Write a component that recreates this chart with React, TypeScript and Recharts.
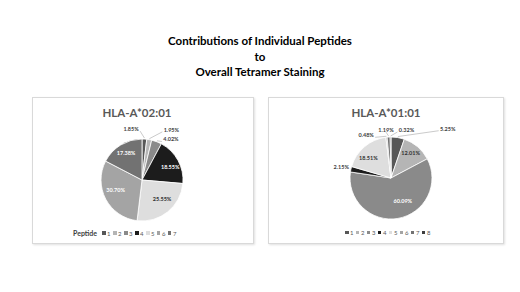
import { PieChart, Pie, Cell, Legend } from 'recharts';

const PEPTIDES_A0201 = ['1', '2', '3', '4', '5', '6', '7'];
const VALUES_A0201 = [1.85, 1.95, 4.02, 18.55, 25.55, 30.7, 17.38];

const PEPTIDES_A0101 = ['1', '2', '3', '4', '5', '6', '7', '8'];
const VALUES_A0101 = [5.25, 12.01, 60.09, 2.15, 18.51, 0.48, 1.19, 0.32];

const TITLE_LINES = ['Contributions of Individual Peptides', 'to', 'Overall Tetramer Staining'];

const GRAYS = ['#575757', '#b5b5b5', '#8a8a8a', '#1c1c1c', '#dedede', '#a4a4a4', '#727272', '#3e3e3e'];

const FONT = 'Lato, "Open Sans", sans-serif';

// label placement: inside the slice, or outside with a leader line and a nudge
type LabelSpec = { out: boolean; dx: number; dy: number; color: string };

const LABELS_A0201: LabelSpec[] = [
    { out: true, dx: -14, dy: 2, color: '#404040' },
    { out: true, dx: 20, dy: 2, color: '#404040' },
    { out: true, dx: 10, dy: 9, color: '#404040' },
    { out: false, dx: 3, dy: 1, color: '#ffffff' },
    { out: false, dx: 2, dy: -3, color: '#303030' },
    { out: false, dx: -1, dy: -3, color: '#ffffff' },
    { out: false, dx: -1, dy: -2, color: '#ffffff' },
];

const LABELS_A0101: LabelSpec[] = [
    { out: true, dx: 48, dy: 3, color: '#404040' },
    { out: false, dx: 1, dy: -3, color: '#303030' },
    { out: false, dx: 7, dy: -5, color: '#ffffff' },
    { out: true, dx: 2, dy: 0, color: '#404040' },
    { out: false, dx: -4, dy: 2, color: '#303030' },
    { out: true, dx: -19, dy: 10, color: '#404040' },
    { out: true, dx: -2, dy: 5, color: '#404040' },
    { out: true, dx: 16, dy: 5, color: '#404040' },
];

const RAD = Math.PI / 180;

function makeLabel(specs: LabelSpec[]) {
    return (props: any) => {
        const { cx, cy, midAngle, outerRadius, index, value } = props;
        const spec = specs[index];
        const cos = Math.cos(-midAngle * RAD);
        const sin = Math.sin(-midAngle * RAD);
        const rr = spec.out ? outerRadius + 12 : outerRadius * 0.7;
        const x = cx + rr * cos + spec.dx;
        const y = cy + rr * sin + spec.dy;
        const text = `${value.toFixed(2)}%`;
        let line = null;
        if (spec.out) {
            const ex = cx + (outerRadius + 1) * cos;
            const ey = cy + (outerRadius + 1) * sin;
            const lx = x < ex - 4 ? x + 9 : x > ex + 4 ? x - 9 : x;
            const ly = y + 2;
            line = <polyline points={`${ex},${ey} ${lx},${ly}`} fill="none" stroke="#a6a6a6" strokeWidth={0.6} />;
        }
        return (
            <g key={`lbl-${index}`}>
                {line}
                <text
                    x={x}
                    y={y}
                    textAnchor="middle"
                    dominantBaseline="central"
                    fill={spec.color}
                    fontSize={5.5}
                    fontWeight={700}
                    fontFamily={FONT}
                >
                    {text}
                </text>
            </g>
        );
    };
}

function LegendRow({ names, prefix }: { names: string[]; prefix?: string }) {
    return (
        <div style={{ display: 'flex', alignItems: 'center', fontFamily: FONT, fontSize: 6, color: '#595959' }}>
            {prefix && (
                <span style={{ fontWeight: 700, fontSize: 7, marginRight: 5, color: '#404040' }}>{prefix}</span>
            )}
            {names.map((n, i) => (
                <span key={n} style={{ display: 'flex', alignItems: 'center', marginRight: 2.5, color: '#595959' }}>
                    <span style={{ width: 3.5, height: 3.5, background: GRAYS[i], marginRight: 1.5 }} />
                    {n}
                </span>
            ))}
        </div>
    );
}

interface PanelProps {
    left: number;
    width: number;
    title: string;
    names: string[];
    values: number[];
    labels: LabelSpec[];
    cx: number;
    cy: number;
    legendLeft: number;
    legendPrefix?: string;
}

function PiePanel({ left, width, title, names, values, labels, cx, cy, legendLeft, legendPrefix }: PanelProps) {
    const data = names.map((n, i) => ({ name: n, value: values[i] }));
    const height = 145;
    return (
        <div
            style={{
                position: 'absolute',
                left,
                top: 97,
                width,
                height,
                border: '1px solid #d9d9d9',
                boxShadow: '1px 1px 2px rgba(0,0,0,0.12)',
                background: '#ffffff',
            }}
        >
            <div
                style={{
                    position: 'absolute',
                    left: cx - 60,
                    width: 120,
                    top: 8,
                    textAlign: 'center',
                    fontFamily: FONT,
                    fontWeight: 700,
                    fontSize: 11.5,
                    color: '#595959',
                }}
            >
                {title}
            </div>
            <PieChart width={width} height={height} style={{ position: 'absolute', left: 0, top: 0 }}>
                <Pie
                    data={data}
                    dataKey="value"
                    nameKey="name"
                    cx={cx}
                    cy={cy}
                    outerRadius={41}
                    startAngle={90}
                    endAngle={-270}
                    stroke="#ffffff"
                    strokeWidth={0.8}
                    labelLine={false}
                    label={makeLabel(labels)}
                    isAnimationActive={false}
                >
                    {data.map((_, i) => (
                        <Cell key={`cell-${i}`} fill={GRAYS[i]} />
                    ))}
                </Pie>
                <Legend
                    wrapperStyle={{ position: 'absolute', left: legendLeft, top: 131, width: 'auto' }}
                    content={() => <LegendRow names={names} prefix={legendPrefix} />}
                />
            </PieChart>
        </div>
    );
}

export default function App() {
    return (
        <div style={{ position: 'absolute', left: 0, top: 0, width: 520, height: 292, background: '#ffffff' }}>
            <div
                style={{
                    position: 'absolute',
                    left: 0,
                    width: 520,
                    top: 33,
                    textAlign: 'center',
                    fontFamily: FONT,
                    fontWeight: 700,
                    fontSize: 11.5,
                    lineHeight: '15.5px',
                    color: '#000000',
                }}
            >
                {TITLE_LINES.map((t) => (
                    <div key={t}>{t}</div>
                ))}
            </div>
            <PiePanel
                left={32}
                width={220}
                title="HLA-A*02:01"
                names={PEPTIDES_A0201}
                values={VALUES_A0201}
                labels={LABELS_A0201}
                cx={104}
                cy={77}
                legendLeft={40}
                legendPrefix="Peptide"
            />
            <PiePanel
                left={268}
                width={234}
                title="HLA-A*01:01"
                names={PEPTIDES_A0101}
                values={VALUES_A0101}
                labels={LABELS_A0101}
                cx={117}
                cy={75}
                legendLeft={76}
            />
        </div>
    );
}
